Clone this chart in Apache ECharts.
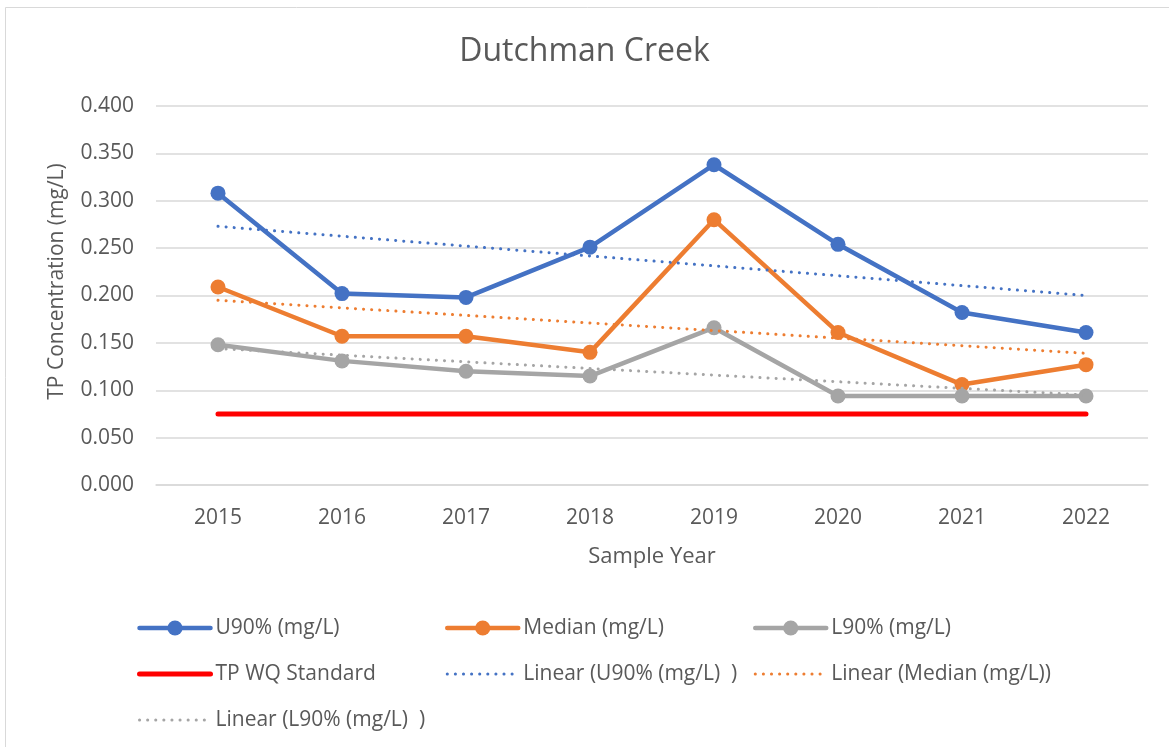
<!DOCTYPE html>
<html>
<head>
<meta charset="utf-8">
<script src="https://cdn.jsdelivr.net/npm/echarts@6/dist/echarts.min.js"></script>
<style>html,body{margin:0;padding:0;background:#fff}#c{width:1169px;height:747px}</style>
</head>
<body>
<div id="c"></div>
<script>
var years = ['2015','2016','2017','2018','2019','2020','2021','2022'];
var u90 = [0.308, 0.202, 0.198, 0.251, 0.338, 0.254, 0.182, 0.161];
var median = [0.209, 0.157, 0.157, 0.140, 0.280, 0.161, 0.106, 0.127];
var l90 = [0.148, 0.131, 0.120, 0.115, 0.166, 0.094, 0.094, 0.094];
var standard = [0.075, 0.075, 0.075, 0.075, 0.075, 0.075, 0.075, 0.075];
// trendline endpoints [2015, 2022]
var u90Trend = [0.273, 0.200];
var medianTrend = [0.195, 0.139];
var l90Trend = [0.144, 0.095];

var FONT = 'Open Sans';
var TXT = '#595959';
var DOT = [0.1, 8];
function trendData(ends){ return [[years[0], ends[0]], [years[years.length-1], ends[1]]]; }
function mainSeries(name, data, color){
  return {name:name, type:'line', data:data, symbol:'circle', symbolSize:15,
    lineStyle:{color:color, width:4.5, cap:'round', join:'round'}, itemStyle:{color:color}, z:3};
}
function trendSeries(name, ends, color){
  return {name:name, type:'line', data:trendData(ends), symbol:'none',
    lineStyle:{color:color, width:3, type:DOT, cap:'round'}, itemStyle:{color:color}, z:4};
}
function solidItem(name){ return {name:name, lineStyle:{width:4.5, cap:'round'}}; }
function plainItem(name, w, dash){ return {name:name, itemStyle:{opacity:0}, lineStyle:{width:w, type:dash, cap:'round'}}; }
var legendBase = {orient:'vertical', padding:0, itemWidth:71, itemHeight:19, itemGap:24,
  textStyle:{fontFamily:FONT, fontSize:21, color:TXT, lineHeight:22}, selectedMode:false};

var chart = echarts.init(document.getElementById('c'), null, {renderer:'canvas'});
chart.setOption({
  animation:false,
  backgroundColor:'#fff',
  graphic:[{type:'rect', shape:{x:5.5, y:7.5, width:1300, height:900}, style:{fill:'none', stroke:'#D9D9D9', lineWidth:1}, silent:true}],
  title:{text:'Dutchman Creek', left:'center', top:31, textStyle:{fontFamily:FONT, fontSize:32, fontWeight:'normal', color:TXT}},
  grid:{left:156, right:21, top:106, bottom:262},
  xAxis:{type:'category', data:years, name:'Sample Year', nameLocation:'middle', nameGap:61,
    nameTextStyle:{fontFamily:FONT, fontSize:22, color:TXT},
    axisLine:{show:true, lineStyle:{color:'#D9D9D9', width:1.5}}, axisTick:{show:false},
    axisLabel:{fontFamily:FONT, fontSize:21, color:TXT, margin:23}},
  yAxis:{type:'value', min:0, max:0.4, interval:0.05, name:'TP Concentration (mg/L)', nameLocation:'middle', nameGap:88,
    nameTextStyle:{fontFamily:FONT, fontSize:21, color:TXT, padding:[0,0,0,28]},
    axisLine:{show:false}, axisTick:{show:false},
    splitLine:{lineStyle:{color:'#D9D9D9', width:1.5}},
    axisLabel:{fontFamily:FONT, fontSize:21, color:TXT, margin:22, formatter:function(v){return v.toFixed(3);}}},
  legend:[
    Object.assign({}, legendBase, {left:137, top:617, data:[solidItem('U90% (mg/L)'), plainItem('TP WQ Standard', 5, 'solid'), plainItem('Linear (L90% (mg/L)  )', 3, DOT)]}),
    Object.assign({}, legendBase, {left:445, top:617, data:[solidItem('Median (mg/L)'), plainItem('Linear (U90% (mg/L)  )', 3, DOT)]}),
    Object.assign({}, legendBase, {left:753, top:617, data:[solidItem('L90% (mg/L)'), plainItem('Linear (Median (mg/L))', 3, DOT)]})
  ],
  series:[
    mainSeries('U90% (mg/L)', u90, '#4472C4'),
    mainSeries('Median (mg/L)', median, '#ED7D31'),
    mainSeries('L90% (mg/L)', l90, '#A5A5A5'),
    {name:'TP WQ Standard', type:'line', data:standard, symbol:'none',
      lineStyle:{color:'#FF0000', width:5, cap:'round'}, itemStyle:{color:'#FF0000'}, z:2},
    trendSeries('Linear (U90% (mg/L)  )', u90Trend, '#4472C4'),
    trendSeries('Linear (Median (mg/L))', medianTrend, '#ED7D31'),
    trendSeries('Linear (L90% (mg/L)  )', l90Trend, '#A5A5A5')
  ]
});
</script>
</body>
</html>
